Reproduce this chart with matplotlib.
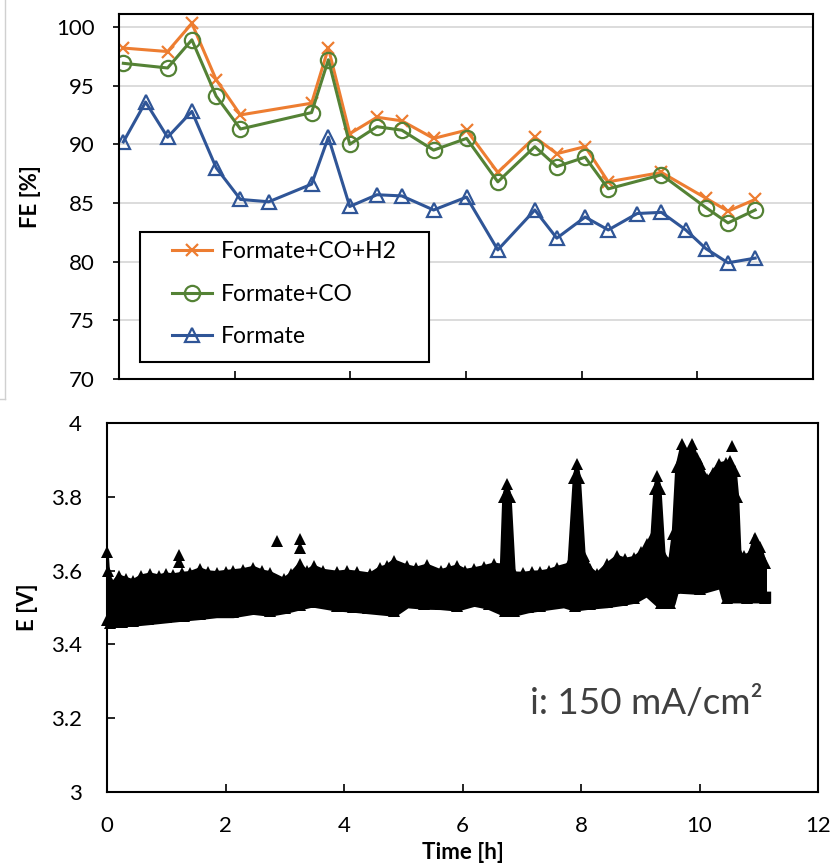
import matplotlib
matplotlib.use("Agg")
import matplotlib.pyplot as plt
from matplotlib.lines import Line2D
from matplotlib.patches import Rectangle

plt.rcParams['font.family'] = ['Lato', 'DejaVu Sans']

# ---- FE data (top panel) ----
t_fe = [0.075, 0.84, 1.26, 1.68, 2.10, 3.33, 3.62, 3.99, 4.46, 4.89, 5.44, 6.01,
        6.55, 7.19, 7.57, 8.06, 8.46, 9.38, 10.15, 10.53, 11.0]
fe_total = [98.2, 97.9, 100.3, 95.5, 92.5, 93.5, 98.2, 90.9, 92.3, 92.0, 90.5, 91.2,
            87.6, 90.6, 89.2, 89.8, 86.8, 87.6, 85.4, 84.3, 85.3]
fe_co = [96.9, 96.5, 98.9, 94.1, 91.3, 92.7, 97.2, 90.0, 91.5, 91.2, 89.5, 90.5,
         86.8, 89.8, 88.1, 88.9, 86.2, 87.4, 84.6, 83.3, 84.4]
t_formate = [0.075, 0.46, 0.84, 1.26, 1.68, 2.10, 2.59, 3.33, 3.62, 3.99, 4.46, 4.89,
             5.44, 6.01, 6.55, 7.19, 7.57, 8.06, 8.46, 8.96, 9.38, 9.80, 10.15, 10.53, 11.0]
fe_formate = [90.2, 93.6, 90.6, 92.8, 88.0, 85.3, 85.1, 86.6, 90.6, 84.7, 85.7, 85.6,
              84.4, 85.5, 81.0, 84.4, 82.0, 83.8, 82.7, 84.1, 84.2, 82.7, 81.1, 79.9, 80.3]

# ---- cell voltage (bottom panel), upper / lower edge of the point cloud ----
t_hi = [0.00, 0.02, 0.08, 0.20, 0.32, 0.44, 0.58, 0.73, 0.87, 1.00, 1.12, 1.27, 1.40,
        1.57, 1.70, 1.85, 2.00, 2.13, 2.30, 2.47, 2.62, 2.75, 2.98, 3.10, 3.25, 3.37,
        3.49, 3.65, 3.88, 4.05, 4.22, 4.44, 4.60, 4.72, 4.84, 5.06, 5.22, 5.40, 5.63,
        5.78, 5.91, 6.05, 6.19, 6.36, 6.53, 6.66, 6.70, 6.75, 6.80, 6.87, 7.02, 7.17,
        7.31, 7.46, 7.60, 7.80, 7.89, 7.93, 7.97, 8.05, 8.16, 8.27, 8.44, 8.61, 8.75,
        8.90, 9.02, 9.12, 9.20, 9.25, 9.29, 9.33, 9.40, 9.50, 9.56, 9.62, 9.71, 9.80,
        9.88, 9.95, 10.00, 10.13, 10.22, 10.33, 10.44, 10.52, 10.60, 10.64, 10.68,
        10.75, 10.85, 10.93, 11.02, 11.11]
v_hi = [3.649, 3.600, 3.563, 3.585, 3.578, 3.572, 3.585, 3.590, 3.585, 3.590, 3.588,
        3.592, 3.594, 3.604, 3.596, 3.594, 3.597, 3.599, 3.602, 3.608, 3.598, 3.594,
        3.576, 3.590, 3.617, 3.598, 3.611, 3.600, 3.595, 3.598, 3.595, 3.590, 3.606,
        3.612, 3.626, 3.612, 3.606, 3.614, 3.599, 3.606, 3.612, 3.600, 3.604, 3.610,
        3.617, 3.614, 3.800, 3.834, 3.800, 3.593, 3.592, 3.595, 3.596, 3.600, 3.608,
        3.617, 3.850, 3.889, 3.850, 3.640, 3.604, 3.590, 3.617, 3.638, 3.630, 3.635,
        3.650, 3.671, 3.690, 3.820, 3.856, 3.820, 3.640, 3.625, 3.700, 3.880, 3.942,
        3.915, 3.942, 3.905, 3.888, 3.847, 3.865, 3.888, 3.892, 3.897, 3.870, 3.800,
        3.645, 3.639, 3.645, 3.689, 3.665, 3.621]
t_lo = [0.00, 0.05, 0.25, 0.44, 0.70, 1.00, 1.30, 1.57, 1.85, 2.13, 2.47, 2.75, 3.00,
        3.25, 3.47, 3.88, 4.15, 4.40, 4.85, 5.06, 5.35, 5.63, 5.91, 6.20, 6.45, 6.72,
        6.87, 7.10, 7.31, 7.72, 7.90, 8.15, 8.44, 8.70, 8.90, 9.12, 9.35, 9.50, 9.57,
        10.00, 10.40, 10.47, 10.80, 11.11]
v_lo = [3.466, 3.459, 3.462, 3.464, 3.468, 3.473, 3.478, 3.482, 3.487, 3.487, 3.496,
        3.491, 3.498, 3.508, 3.516, 3.505, 3.502, 3.498, 3.491, 3.514, 3.510, 3.509,
        3.505, 3.518, 3.510, 3.491, 3.491, 3.500, 3.505, 3.514, 3.505, 3.510, 3.514,
        3.520, 3.526, 3.546, 3.513, 3.513, 3.554, 3.550, 3.568, 3.527, 3.527, 3.527]
# stray points above the cloud
t_iso = [1.22, 1.22, 2.87, 3.25, 3.25, 10.55]
v_iso = [3.641, 3.622, 3.680, 3.685, 3.660, 3.937]

fig = plt.figure(figsize=(8.33, 8.68), dpi=100)

# ---------------- top panel ----------------
ax1 = fig.add_axes([119/833, 1 - 379/868, 694/833, 365/868])
ax1.plot(t_fe, fe_total, color='#ED7D31', lw=2.2, marker='x', ms=9, mew=1.6,
         label='Formate+CO+H2')
ax1.plot(t_fe, fe_co, color='#548235', lw=2.2, marker='o', ms=11, mew=1.6,
         mfc='none', label='Formate+CO')
ax1.plot(t_formate, fe_formate, color='#2F5597', lw=2.2, marker='^', ms=10, mew=1.6,
         mfc='none', label='Formate')
ax1.set_xlim(0, 12)
ax1.set_ylim(70, 101.1)
ax1.set_yticks([70, 75, 80, 85, 90, 95, 100])
ax1.set_xticks([2, 4, 6, 8, 10])
ax1.grid(axis='y', color='#d9d9d9', lw=1.3)
ax1.set_axisbelow(True)
ax1.tick_params(axis='x', direction='in', length=5.5, width=1.2, labelbottom=False)
ax1.tick_params(axis='y', direction='out', length=4.5, width=1.2, labelsize=16, pad=13)
for s in ax1.spines.values():
    s.set_linewidth(1.5)
ax1.set_ylabel('FE [%]', fontsize=16, fontweight='bold')
ax1.yaxis.set_label_coords(-0.112, 0.5)

# legend box drawn by hand (Excel-like wide padding)
ax1.add_patch(Rectangle((0.0303, 0.0466), 0.4164, 0.356, transform=ax1.transAxes,
                        facecolor='white', edgecolor='black', lw=1.5, zorder=5))
leg = ax1.legend(loc='upper left', bbox_to_anchor=(0.0764, 0.377), borderaxespad=0,
                 borderpad=0, frameon=False, fontsize=16.5, handlelength=1.75,
                 handletextpad=0.4, labelspacing=0.93)
leg.set_zorder(6)

# ---------------- bottom panel ----------------
ax2 = fig.add_axes([107/833, 1 - 792.3/868, 711/833, 369.6/868])
ax2.fill(t_hi + t_lo[::-1], v_hi + v_lo[::-1], facecolor='black', edgecolor='black',
         lw=2.5)
ax2.plot(t_lo, v_lo, color='black', lw=8.5, solid_joinstyle='round')
ax2.plot(t_hi, v_hi, ls='none', marker='^', ms=8.5, color='black', mew=0, clip_on=False)
ax2.plot(t_lo, v_lo, ls='none', marker='^', ms=8.5, color='black', mew=0, clip_on=False)
ax2.plot(t_iso, v_iso, ls='none', marker='^', ms=8.5, color='black', mew=0)
ax2.set_xlim(0, 12)
ax2.set_ylim(3, 4)
ax2.set_xticks(range(0, 13, 2))
ax2.set_yticks([3, 3.2, 3.4, 3.6, 3.8, 4])
ax2.set_yticklabels(['3', '3.2', '3.4', '3.6', '3.8', '4'])
ax2.tick_params(direction='in', length=6, width=1.2, labelsize=16)
ax2.tick_params(axis='y', pad=18)
ax2.tick_params(axis='x', pad=17)
for s in ax2.spines.values():
    s.set_linewidth(1.5)
ax2.set_ylabel('E [V]', fontsize=16, fontweight='bold')
ax2.yaxis.set_label_coords(-0.097, 0.5)
ax2.set_xlabel('Time [h]', fontsize=16, fontweight='bold')
ax2.xaxis.set_label_coords(0.5, -0.135)
ax2.text(0.595, 0.24, 'i: 150 mA/cm²', transform=ax2.transAxes, fontsize=26.5,
         color='#404040', va='center')

# light frame edge left over on the left side
fig.add_artist(Line2D([5/833, 5/833], [1, 1 - 399/868], transform=fig.transFigure,
                      color='#d0d0d0', lw=1))
fig.add_artist(Line2D([0, 5/833], [1 - 399/868, 1 - 399/868], transform=fig.transFigure,
                      color='#d0d0d0', lw=1))

fig.savefig('out.png', dpi=100)
